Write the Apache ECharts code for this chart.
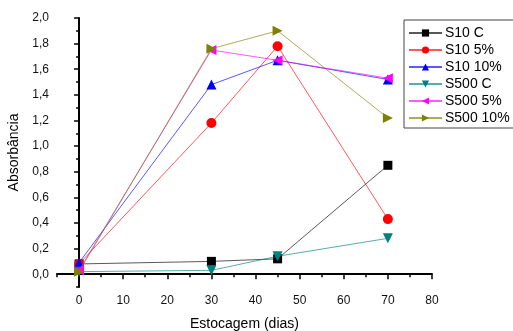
<!DOCTYPE html>
<html><head><meta charset="utf-8">
<script src="https://cdn.jsdelivr.net/npm/echarts@6/dist/echarts.min.js"></script>
<style>html,body{margin:0;padding:0;background:#fff}#c{width:513px;height:331px}</style>
</head><body><div id="c"></div>
<script>
const days = [0, 30, 45, 70];
const seriesNames = ['S10 C', 'S10 5%', 'S10 10%', 'S500 C', 'S500 5%', 'S500 10%'];
const s10C = [0.08, 0.10, 0.12, 0.85];
const s10_5 = [0.08, 1.18, 1.78, 0.43];
const s10_10 = [0.09, 1.48, 1.67, 1.52];
const s500C = [0.02, 0.03, 0.14, 0.28];
const s500_5 = [0.03, 1.75, 1.67, 1.53];
const s500_10 = [0.02, 1.76, 1.90, 1.22];
const yLabels = [0, 0.2, 0.4, 0.6, 0.8, 1.0, 1.2, 1.4, 1.6, 1.8, 2.0];
const yMinor = [-0.1, 0.1, 0.3, 0.5, 0.7, 0.9, 1.1, 1.3, 1.5, 1.7, 1.9];
const xLabels = [0, 10, 20, 30, 40, 50, 60, 70, 80];
const xMinor = [-5, 5, 15, 25, 35, 45, 55, 65, 75];

const allData = [s10C, s10_5, s10_10, s500C, s500_5, s500_10];
const colors = ['#000000', '#ff0000', '#0000ff', '#008080', '#ff00ff', '#808000'];
const symbols = ['rect', 'circle', 'triangle', 'path://M0,0 L10,0 L5,9 Z', 'path://M0,5 L9,0 L9,10 Z', 'path://M0,0 L9,5 L0,10 Z'];
const sizes = [9, 10, 10, 10, 10, 10];

const fmt = v => v.toFixed(1).replace('.', ',');
const font = 'Liberation Sans, Arial, sans-serif';

const chart = echarts.init(document.getElementById('c'), null, {renderer: 'canvas'});
const axisCommonX = {type: 'value', min: -5, max: 80, splitLine: {show: false}};
const axisCommonY = {type: 'value', min: -0.1, max: 2.0, splitLine: {show: false}};
chart.setOption({
  animation: false,
  backgroundColor: '#fff',
  grid: {left: 57, right: 81, top: 18, bottom: 44, containLabel: false, outerBoundsMode: 'none'},
  xAxis: [
    Object.assign({}, axisCommonX, {
      name: 'Estocagem (dias)', nameLocation: 'middle', nameGap: 30,
      nameTextStyle: {fontFamily: font, fontSize: 14, color: '#000'},
      axisLine: {lineStyle: {color: '#000', width: 2}},
      axisTick: {customValues: xLabels, length: 5, lineStyle: {color: '#000', width: 1.5}},
      axisLabel: {customValues: xLabels, fontFamily: font, fontSize: 12, color: '#111', margin: 8}
    }),
    Object.assign({}, axisCommonX, {
      position: 'bottom',
      axisLine: {show: false},
      axisTick: {customValues: xMinor, length: 3, lineStyle: {color: '#000', width: 1.5}},
      axisLabel: {show: false}
    })
  ],
  yAxis: [
    Object.assign({}, axisCommonY, {
      name: 'Absorbância', nameLocation: 'middle', nameGap: 29,
      nameTextStyle: {fontFamily: font, fontSize: 14, color: '#000'},
      axisLine: {lineStyle: {color: '#000', width: 2}},
      axisTick: {customValues: yLabels, length: 5, lineStyle: {color: '#000', width: 1.5}},
      axisLabel: {customValues: yLabels, formatter: fmt, fontFamily: font, fontSize: 12, color: '#111', margin: 8}
    }),
    Object.assign({}, axisCommonY, {
      position: 'left',
      axisLine: {show: false},
      axisTick: {customValues: yMinor, length: 3, lineStyle: {color: '#000', width: 1.5}},
      axisLabel: {show: false}
    })
  ],
  legend: {
    orient: 'vertical', left: 404, top: 20,
    padding: [6, 8, 3, 4],
    itemWidth: 33, itemHeight: 9, itemGap: 3,
    borderColor: '#444', borderWidth: 1,
    textStyle: {fontFamily: font, fontSize: 14, lineHeight: 14, color: '#000', padding: [0, 0, 0, -2]},
    data: seriesNames
  },
  series: seriesNames.map((n, i) => ({
    name: n, type: 'line',
    data: days.map((d, j) => [d, allData[i][j]]),
    symbol: symbols[i], symbolSize: sizes[i],
    itemStyle: {color: colors[i]},
    lineStyle: {color: colors[i], width: 1, opacity: 0.65},
    z: 2 + i
  }))
});
</script></body></html>
